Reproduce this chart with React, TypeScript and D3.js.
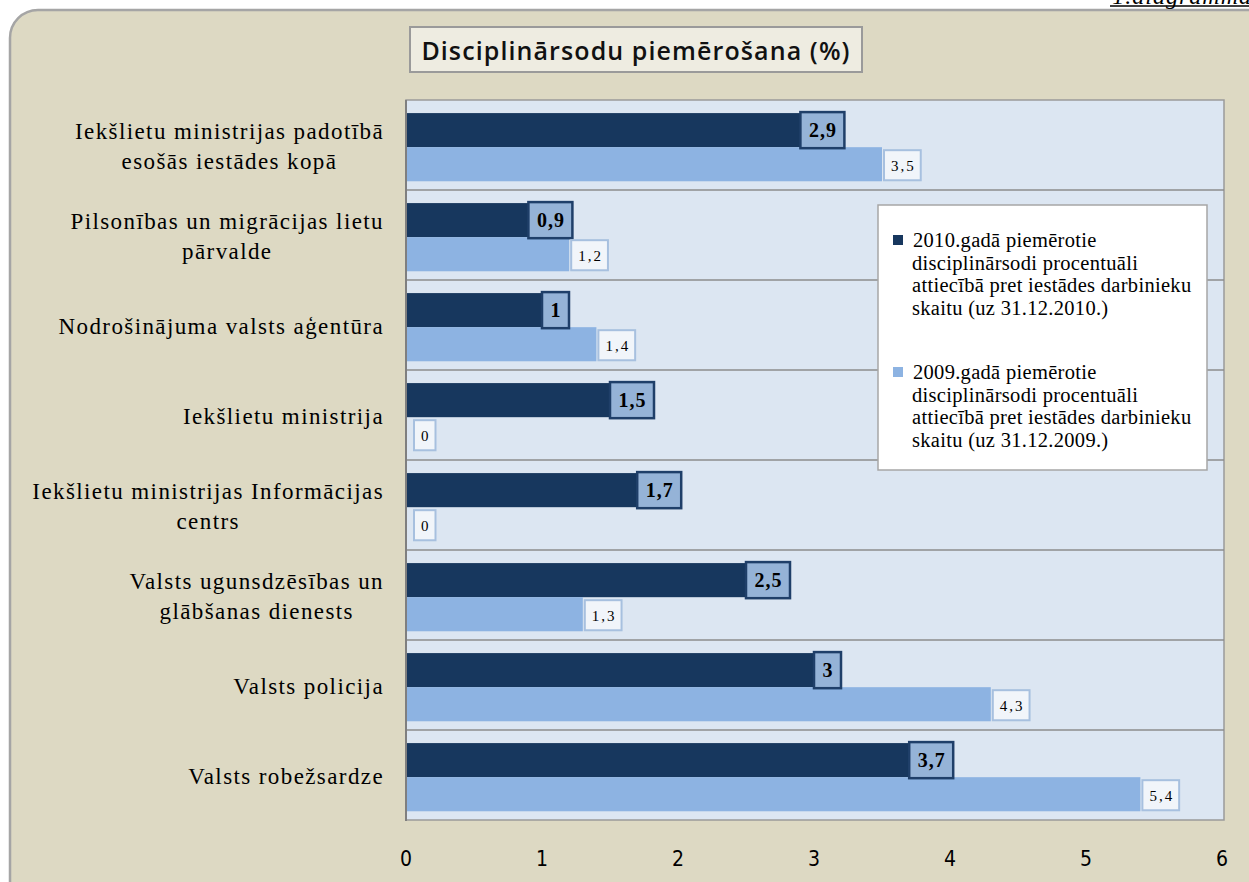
import React, { useEffect, useRef } from 'react';
import * as d3 from 'd3';

const categories = [
  'Iekšlietu ministrijas padotībā|esošās iestādes kopā',
  'Pilsonības un migrācijas lietu|pārvalde',
  'Nodrošinājuma valsts aģentūra',
  'Iekšlietu ministrija',
  'Iekšlietu ministrijas Informācijas|centrs',
  'Valsts ugunsdzēsības un|glābšanas dienests',
  'Valsts policija',
  'Valsts robežsardze',
];
const values2010 = [2.9, 0.9, 1, 1.5, 1.7, 2.5, 3, 3.7];
const values2009 = [3.5, 1.2, 1.4, 0, 0, 1.3, 4.3, 5.4];
const seriesNames = ['2010', '2009'];
const legendLines = [
  ['2010.gadā piemērotie', 'disciplinārsodi procentuāli', 'attiecībā pret iestādes darbinieku', 'skaitu (uz 31.12.2010.)'],
  ['2009.gadā piemērotie', 'disciplinārsodi procentuāli', 'attiecībā pret iestādes darbinieku', 'skaitu (uz 31.12.2009.)'],
];
const xTicks = [0, 1, 2, 3, 4, 5, 6];

const W = 1249;
const H = 882;
const SERIF = '"Liberation Serif", "Times New Roman", serif';
const DARK = '#17375e';
const LIGHT = '#8db3e2';

const fmt = (v: number) => String(v).replace('.', ',');

const App = () => {
  const svgRef = useRef(null);

  useEffect(() => {
    const svg = d3.select(svgRef.current);
    svg.selectAll('*').remove();

    const left = 406;
    const right = 1222;
    const top = 100;
    const bottom = 820;

    // outer panel
    svg.append('rect').attr('x', 10).attr('y', 10).attr('width', 1300).attr('height', 940)
      .attr('rx', 28).attr('fill', '#ddd9c3').attr('stroke', '#a5a5a5').attr('stroke-width', 2.5);

    // caption cut off at the top right
    svg.append('text').attr('x', 1252).attr('y', 4).attr('text-anchor', 'end')
      .attr('font-family', SERIF).attr('font-style', 'italic').attr('font-size', 24).attr('letter-spacing', 1)
      .text('1.diagramma');
    svg.append('line').attr('x1', 1110).attr('x2', 1249).attr('y1', 6).attr('y2', 6)
      .attr('stroke', '#000').attr('stroke-width', 1.5);

    // title
    svg.append('rect').attr('x', 410).attr('y', 27).attr('width', 452).attr('height', 45)
      .attr('fill', '#eeece1').attr('stroke', '#9a9a9a').attr('stroke-width', 2);
    svg.append('text').attr('x', 636).attr('y', 60).attr('text-anchor', 'middle')
      .attr('font-family', '"Open Sans", "Noto Sans", sans-serif').attr('font-weight', 600)
      .attr('font-size', 25).attr('letter-spacing', 1.1).attr('fill', '#111').text('Disciplinārsodu piemērošana (%)');

    const x = d3.scaleLinear().domain([0, 6]).range([left, right]);
    const y = d3.scaleBand().domain(categories).range([top, bottom]).padding(0);
    const ys = d3.scaleBand().domain(seriesNames).range([0, y.bandwidth()])
      .paddingInner(0).paddingOuter(0.32).align(0.6);

    // plot area
    svg.append('rect').attr('x', left).attr('y', top).attr('width', right - left + 2).attr('height', bottom - top)
      .attr('fill', '#dce6f2').attr('stroke', '#9a9a9a').attr('stroke-width', 1.5);

    // category separators
    svg.append('g').selectAll('line').data(categories.slice(1)).enter().append('line')
      .attr('x1', left).attr('x2', right + 2)
      .attr('y1', d => y(d) as number).attr('y2', d => y(d) as number)
      .attr('stroke', '#8c8c8c').attr('stroke-width', 1.5);

    const rows = categories.map((c, i) => ({ c, v10: values2010[i], v09: values2009[i] }));

    // bars
    const g = svg.append('g');
    g.selectAll('.bar10').data(rows).enter().append('rect')
      .attr('x', x(0)).attr('y', d => (y(d.c) as number) + (ys('2010') as number))
      .attr('width', d => x(d.v10) - x(0)).attr('height', ys.bandwidth()).attr('fill', DARK);
    g.selectAll('.bar09').data(rows).enter().append('rect')
      .attr('x', x(0)).attr('y', d => (y(d.c) as number) + (ys('2009') as number))
      .attr('width', d => x(d.v09) - x(0)).attr('height', ys.bandwidth()).attr('fill', LIGHT);

    // axis line
    svg.append('line').attr('x1', left).attr('x2', left).attr('y1', top).attr('y2', bottom + 1)
      .attr('stroke', '#7f7f7f').attr('stroke-width', 2);

    // data labels
    rows.forEach(d => {
      const by = (y(d.c) as number) + (ys('2010') as number);
      const t = svg.append('text').attr('font-family', SERIF).attr('font-weight', 700)
        .attr('font-size', 20).attr('letter-spacing', 1).attr('fill', '#000').text(fmt(d.v10));
      const w = (t.node() as SVGTextElement).getComputedTextLength();
      const bw = w + 16;
      const bx = x(d.v10);
      svg.insert('rect', () => t.node()).attr('x', bx).attr('y', by - 1).attr('width', bw).attr('height', ys.bandwidth() + 2)
        .attr('fill', '#95b3d7').attr('stroke', '#1f3f69').attr('stroke-width', 2.5);
      t.attr('x', bx + bw / 2 + 0.5).attr('y', by + ys.bandwidth() / 2 + 7).attr('text-anchor', 'middle');

      const ly = (y(d.c) as number) + (ys('2009') as number);
      const t2 = svg.append('text').attr('font-family', SERIF).attr('font-size', 15)
        .attr('letter-spacing', 2).attr('fill', '#000').text(fmt(d.v09));
      const w2 = (t2.node() as SVGTextElement).getComputedTextLength();
      const bw2 = w2 + 12;
      const bx2 = x(d.v09) + (d.v09 === 0 ? 8 : 2);
      svg.insert('rect', () => t2.node()).attr('x', bx2).attr('y', ly + 3).attr('width', bw2).attr('height', ys.bandwidth() - 4)
        .attr('fill', '#f1f5fa').attr('stroke', '#a7c0df').attr('stroke-width', 2);
      t2.attr('x', bx2 + bw2 / 2 + 1).attr('y', ly + ys.bandwidth() / 2 + 7).attr('text-anchor', 'middle');
    });

    // category labels: lines centred in their block, block right-aligned
    const labelRight = 384;
    categories.forEach(c => {
      const lines = c.split('|');
      const cy = (y(c) as number) + y.bandwidth() / 2;
      const lh = 30;
      const texts = lines.map((ln, i) => svg.append('text').attr('font-family', SERIF).attr('font-size', 23)
        .attr('letter-spacing', 1.4).attr('fill', '#000').attr('text-anchor', 'middle')
        .attr('y', cy - ((lines.length - 1) * lh) / 2 + i * lh + 9).text(ln));
      const widths = texts.map(t => (t.node() as SVGTextElement).getComputedTextLength());
      const bw = d3.max(widths) as number;
      texts.forEach(t => t.attr('x', labelRight - bw / 2));
    });

    // x axis tick labels
    svg.append('g').selectAll('text').data(xTicks).enter().append('text')
      .attr('x', d => x(d)).attr('y', 866).attr('text-anchor', 'middle')
      .attr('font-family', '"Liberation Sans Narrow", "DejaVu Sans Condensed", sans-serif')
      .attr('font-size', 21).attr('fill', '#000').text(d => String(d));

    // legend
    svg.append('rect').attr('x', 878).attr('y', 205).attr('width', 329).attr('height', 265)
      .attr('fill', '#fff').attr('stroke', '#a6a6a6').attr('stroke-width', 1.5);
    const legendTops = [247, 379];
    [DARK, LIGHT].forEach((col, k) => {
      svg.append('rect').attr('x', 893).attr('y', legendTops[k] - 12).attr('width', 10).attr('height', 10).attr('fill', col);
      legendLines[k].forEach((ln, i) => {
        svg.append('text').attr('x', i === 0 ? 913 : 912).attr('y', legendTops[k] + i * 22.5)
          .attr('font-family', SERIF).attr('font-size', 20.5).attr('letter-spacing', 0.3)
          .attr('fill', '#000').text(ln);
      });
    });
  }, []);

  return (
    <svg ref={svgRef} width={W} height={H} style={{ position: 'absolute', left: 0, top: 0, background: '#fff' }}></svg>
  );
};

export default App;
